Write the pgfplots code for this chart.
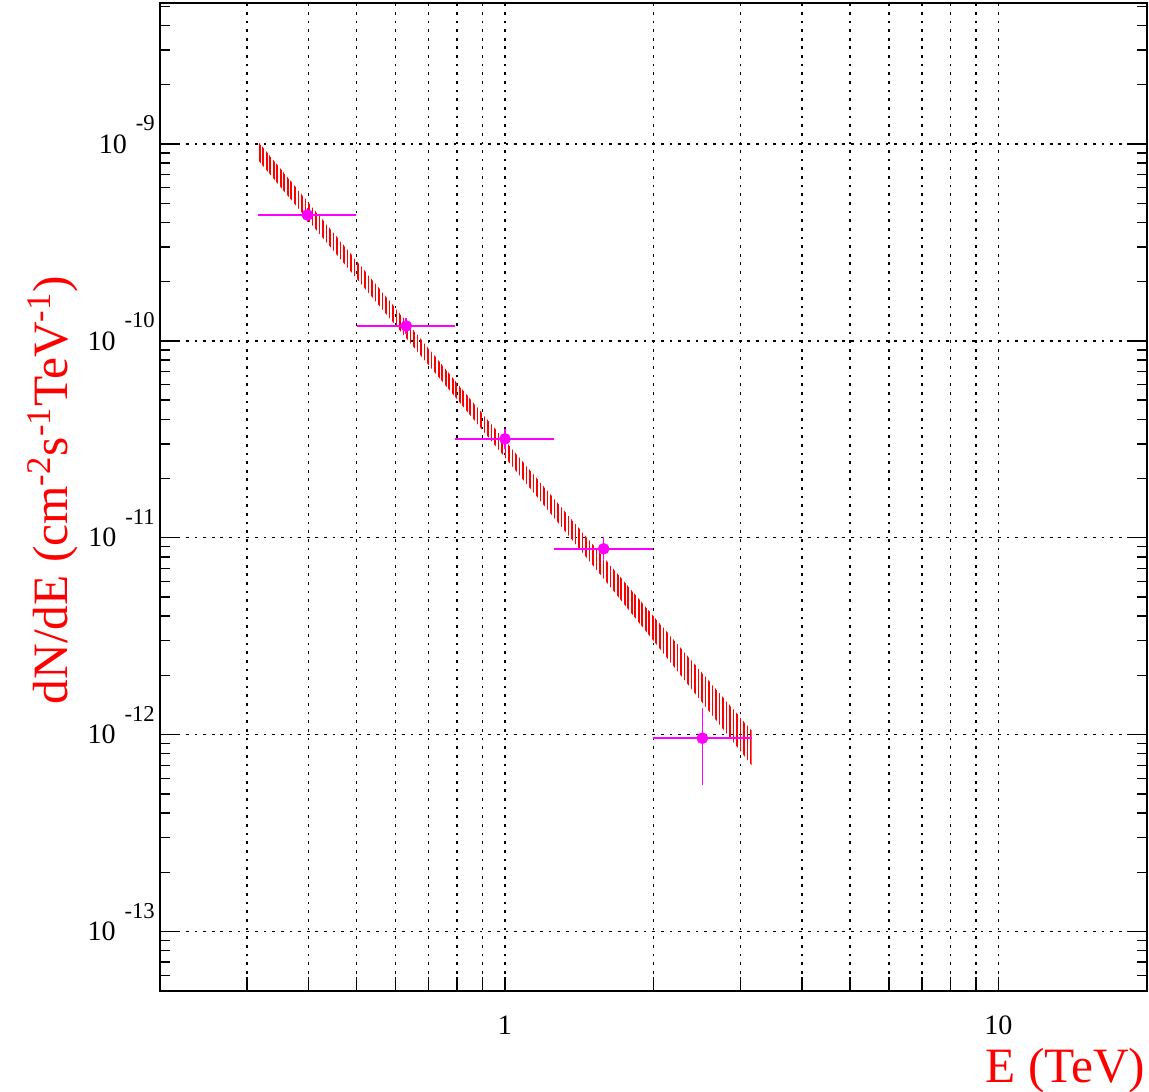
\documentclass[border=0pt]{standalone}
\usepackage{pgfplots}
\pgfplotsset{compat=1.18}
\usepackage{fontspec}
\setmainfont{Liberation Serif}
\usetikzlibrary{patterns,patterns.meta}
\definecolor{mag}{RGB}{255,0,255}
\newcommand{\pw}[1]{10\hspace{3.3pt}\smash{\raisebox{8.3pt}{\fontsize{8.4}{9}\selectfont #1}}}

\pgfplotstableread{
x      y        xp     xm     yp       ym
0.398  4.36e-10 0.102  0.082  0.37e-10 0.34e-10
0.631  1.191e-10 0.163 0.130  0.118e-10 0.106e-10
1.000  3.18e-11 0.259  0.206  0.39e-11 0.35e-11
1.585  8.79e-12 0.415  0.326  1.33e-12 1.15e-12
2.512  9.60e-13 0.650  0.512  4.11e-13 4.03e-13
}\pts

\begin{document}
\begin{tikzpicture}
\begin{axis}[
  scale only axis, width=365.6pt, height=365.9pt,
  xmode=log, ymode=log,
  xmin=0.2, xmax=20, ymin=5e-14, ymax=5.2e-9,
  xtick={1,10}, xticklabels={1,10},
  minor xtick={0.3,0.4,0.5,0.6,0.7,0.8,0.9,2,3,4,5,6,7,8,9},
  ytick={1e-13,1e-12,1e-11,1e-10,1e-9},
  yticklabels={\pw{-13},\pw{-12},\pw{-11},\pw{-10},\pw{-9}},
  minor ytick={6e-14,7e-14,8e-14,9e-14,
    2e-13,3e-13,4e-13,5e-13,6e-13,7e-13,8e-13,9e-13,
    2e-12,3e-12,4e-12,5e-12,6e-12,7e-12,8e-12,9e-12,
    2e-11,3e-11,4e-11,5e-11,6e-11,7e-11,8e-11,9e-11,
    2e-10,3e-10,4e-10,5e-10,6e-10,7e-10,8e-10,9e-10,
    2e-9,3e-9,4e-9,5e-9},
  xtick pos=bottom, ytick pos=both,
  tick align=inside,
  major tick length=7.4pt, minor tick length=3.7pt,
  xtick style={/pgfplots/major tick length=5.2pt, /pgfplots/minor tick length=5.2pt},
  tick style={black, line width=0.5pt},
  xmajorgrids, xminorgrids, ymajorgrids,
  grid style={black, line width=0.5pt, dash pattern=on 1pt off 2.2pt},
  axis line style={line width=0.6pt},
  tick label style={font=\fontsize{10.4}{12}\selectfont},
  xticklabel style={yshift=-5.8pt},
  yticklabel style={xshift=1.6pt},
  every axis y label/.style={at={(axis description cs:-0.109,0.507)}, rotate=90, anchor=center, font=\fontsize{18.3}{20}\selectfont, text=red},
  every axis x label/.style={at={(axis description cs:1.008,-0.081)}, anchor=east, font=\fontsize{18.3}{20}\selectfont, text=red},
  ylabel={dN/dE (cm\textsuperscript{-2}s\textsuperscript{-1}TeV\textsuperscript{-1})},
  xlabel={E (TeV)},
  clip=true,
]
\addplot[draw=none, pattern={Lines[angle=90,distance=1.3pt,line width=0.6pt]}, pattern color=red]
  coordinates {
  (0.316,1.03e-9) (0.5,2.56e-10) (0.8,6.1e-11) (1,3.12e-11) (1.585,7.95e-12) (2,4.0e-12) (3.16,1.05e-12)
  (3.16,7.0e-13) (2,3.0e-12) (1.585,6.2e-12) (1,2.56e-11) (0.8,5.05e-11) (0.5,2.08e-10) (0.316,8.3e-10)
  } -- cycle;
\addplot[only marks, mark=*, mark size=1.95pt, color=mag,
  error bars/.cd, x dir=both, x explicit, y dir=both, y explicit,
  error mark=none, error bar style={line width=0.6pt, color=mag}]
  table[x=x, y=y, x error plus=xp, x error minus=xm, y error plus=yp, y error minus=ym] {\pts};
\coordinate (bl) at (rel axis cs:0,0);
\coordinate (tr) at (rel axis cs:1,1);
\end{axis}
\pgfresetboundingbox
\path[use as bounding box] ([shift={(-59.26pt,-37.4pt)}]bl) rectangle ([shift={(0.74pt,1.11pt)}]tr);
\end{tikzpicture}
\end{document}
